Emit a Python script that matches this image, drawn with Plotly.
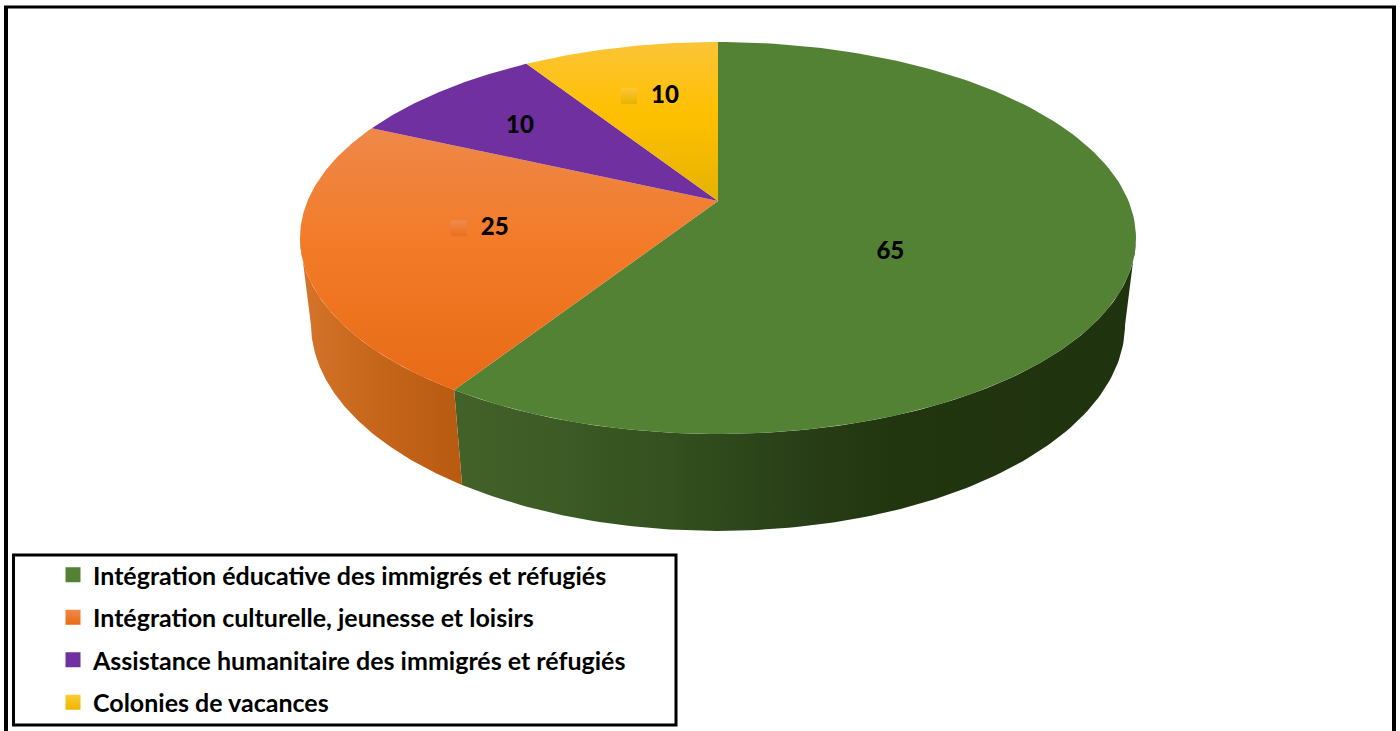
import math
import plotly.graph_objects as go

# ---------- data ----------
categories = [
    "Intégration éducative des immigrés et réfugiés",
    "Intégration culturelle, jeunesse et loisirs",
    "Assistance humanitaire des immigrés et réfugiés",
    "Colonies de vacances",
]
values = [65, 25, 10, 10]

# ---------- styles ----------
top_gradients = [
    [[0, "#548235"], [1, "#548235"]],
    [[0, "#EE8849"], [0.45, "#F37B28"], [1, "#E86B16"]],
    [[0, "#7030A0"], [1, "#7030A0"]],
    [[0, "#FBC437"], [0.45, "#FFC000"], [1, "#E5B300"]],
]
side_gradients = [
    [[0, "#42622A"], [0.1, "#3F5E27"], [0.32, "#33501E"], [0.5, "#293F17"], [0.65, "#21350F"], [1, "#20330F"]],
    [[0, "#D5742A"], [0.5, "#C4651A"], [1, "#B85A10"]],
]
legend_colors = ["#548235", "#F0874A", "#7030A0", "#FFCB32"]
legend_shades = ["#548235", "#EB6C12", "#7030A0", "#EDB700"]
label_offsets = [(-30, 25), (-21, 1), (-52, -16), (0, -21)]
key_marks = [None, ("#EF8A50", "#EC6E1A", -36, -1), None, ("#FDC636", "#E8B400", -36, -1)]
FONT = "Lato"

# ---------- projection of the tilted disc (pixel units of the axes) ----------
CX, CY = 718, 201
A, B, K = 410.5, 189, 0.1888
DEPTH_W, DEPTH_Y = 0.026, 87.2


def project(theta, frac=1.0, bottom=False):
    X, Y = frac * math.sin(theta), frac * math.cos(theta)
    w = 1 + K * Y + (DEPTH_W if bottom else 0)
    y = -B * Y + (DEPTH_Y if bottom else 0)
    return CX + A * X / w, CY + y / w


def arc(t0, t1, n, bottom=False):
    pts = [project(t0 + (t1 - t0) * i / n, bottom=bottom) for i in range(n + 1)]
    return [p[0] for p in pts], [p[1] for p in pts]


total = sum(values)
edges = [0.0]
for v in values:
    edges.append(edges[-1] + v / total * 2 * math.pi)

fig = go.Figure()

# visible side walls: from the right silhouette to the left silhouette
tangent = math.pi / 2 + math.asin(K)
side_spans = [(tangent, edges[1]), (edges[1], 2 * math.pi - tangent)]
for (t0, t1), scale in zip(side_spans, side_gradients):
    xt, yt = arc(t0, t1, 120)
    xb, yb = arc(t0, t1, 120, bottom=True)
    xs = xt + xb[::-1] + [xt[0]]
    ys = yt + yb[::-1] + [yt[0]]
    fig.add_trace(go.Scatter(
        x=xs, y=ys, mode="lines", line=dict(width=0), fill="toself",
        fillgradient=dict(type="horizontal", colorscale=scale, start=min(xs), stop=max(xs)),
        showlegend=False, hoverinfo="skip",
    ))

# top face slices
for i in range(len(values)):
    ax, ay = arc(edges[i], edges[i + 1], 160)
    xs = [CX] + ax + [CX]
    ys = [CY] + ay + [CY]
    fig.add_trace(go.Scatter(
        x=xs, y=ys, mode="lines", line=dict(width=0), fill="toself",
        fillgradient=dict(type="vertical", colorscale=top_gradients[i],
                          start=min(ys), stop=max(ys)),
        showlegend=False, hovertemplate=categories[i] + ": %{text}<extra></extra>",
        text=[str(values[i])] * len(xs),
    ))

# data labels
lab_x, lab_y = [], []
for i in range(len(values)):
    mx, my = project((edges[i] + edges[i + 1]) / 2, 0.5)
    lab_x.append(mx + label_offsets[i][0])
    lab_y.append(my + label_offsets[i][1])
    if key_marks[i]:
        col, shade, dx, dy = key_marks[i]
        fig.add_trace(go.Scatter(
            x=[lab_x[i] + dx], y=[lab_y[i] + dy], mode="markers",
            marker=dict(symbol="square", size=16, color=col,
                        gradient=dict(type="vertical", color=shade)),
            showlegend=False, hoverinfo="skip",
        ))
fig.add_trace(go.Scatter(
    x=lab_x, y=lab_y, mode="text", text=[str(v) for v in values],
    textposition="middle center",
    textfont=dict(family=FONT, size=24, color="black", weight=900),
    showlegend=False, hoverinfo="skip",
))

# legend entries
for name, col, shade in zip(categories, legend_colors, legend_shades):
    fig.add_trace(go.Scatter(
        x=[None], y=[None], mode="markers", name=name, legendgroup=name,
        marker=dict(symbol="square", size=15, color=col,
                    gradient=dict(type="vertical", color=shade)),
    ))

fig.update_layout(
    width=1400, height=731,
    margin=dict(l=0, r=0, t=0, b=0),
    paper_bgcolor="white", plot_bgcolor="white",
    xaxis=dict(range=[0, 1400], visible=False, fixedrange=True),
    yaxis=dict(range=[731, 0], visible=False, fixedrange=True),
    legend=dict(
        x=53 / 1400, y=1 - 552 / 731, xanchor="left", yanchor="top",
        bgcolor="rgba(0,0,0,0)", borderwidth=0, tracegroupgap=7,
        font=dict(family=FONT, size=25, color="black", weight="bold"),
        itemclick=False, itemdoubleclick=False,
    ),
    shapes=[
        # outer frame (runs off the bottom of the page)
        dict(type="line", xref="paper", yref="paper", x0=6 / 1400, x1=6 / 1400, y0=0, y1=1 - 6 / 731,
             line=dict(color="black", width=4)),
        dict(type="line", xref="paper", yref="paper", x0=4 / 1400, x1=1396 / 1400, y0=1 - 7 / 731, y1=1 - 7 / 731,
             line=dict(color="black", width=3)),
        dict(type="line", xref="paper", yref="paper", x0=1394 / 1400, x1=1394 / 1400, y0=0, y1=1 - 6 / 731,
             line=dict(color="black", width=4)),
        # legend box
        dict(type="rect", xref="paper", yref="paper", x0=13.5 / 1400, x1=676 / 1400,
             y0=1 - 725 / 731, y1=1 - 555 / 731, line=dict(color="black", width=3),
             fillcolor="white", layer="below"),
    ],
)

fig.write_html("out.html", config={"displayModeBar": False},
               post_script="document.body.style.margin='0';")
